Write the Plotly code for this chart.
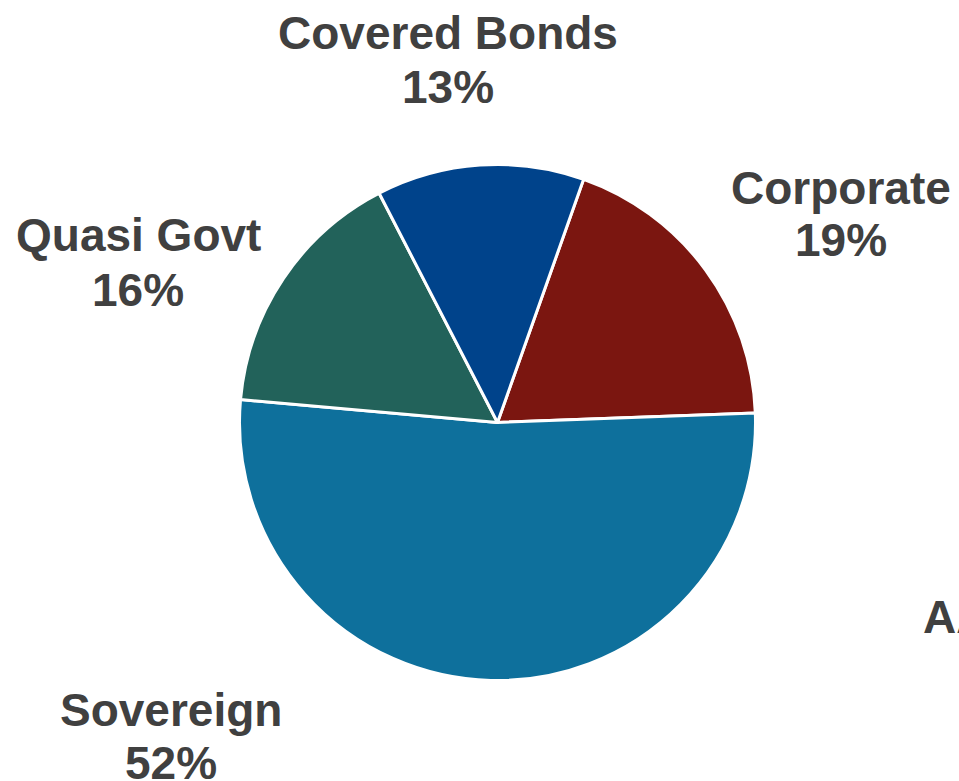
import plotly.graph_objects as go

W, H = 959, 781

categories = ["Corporate", "Sovereign", "Quasi Govt", "Covered Bonds"]
values = [19, 52, 16, 13]
colors = ["#7B1610", "#0E709C", "#22625A", "#00438B"]

# label anchor positions in pixels (x centre, name line centre, pct line centre)
label_pos = {
    "Corporate": (841, 188, 240),
    "Sovereign": (171, 710, 763),
    "Quasi Govt": (138, 235, 290),
    "Covered Bonds": (448, 33, 87),
}

FONT = "Liberation Sans, Arial, sans-serif"
TXT = "#404040"
FS = 46

cx, cy, r = 497.5, 422.5, 258

fig = go.Figure(go.Pie(
    labels=categories,
    values=values,
    marker=dict(colors=colors, line=dict(color="white", width=3)),
    sort=False,
    direction="clockwise",
    rotation=19.5,
    textinfo="none",
    hoverinfo="label+percent",
    showlegend=False,
    domain=dict(x=[(cx - r) / W, (cx + r) / W], y=[1 - (cy + r) / H, 1 - (cy - r) / H]),
))

annotations = []
for cat, val in zip(categories, values):
    x, y1, y2 = label_pos[cat]
    for text, yy in ((f"<b>{cat}</b>", y1), (f"<b>{val}%</b>", y2)):
        annotations.append(dict(
            text=text, x=x / W, y=1 - yy / H, xref="paper", yref="paper",
            xanchor="center", yanchor="middle", showarrow=False,
            font=dict(family=FONT, size=FS, color=TXT),
        ))

# partially visible label of a neighbouring chart at the right edge
annotations.append(dict(
    text="<b>AA</b>", x=921 / W, y=1 - 617 / H, xref="paper", yref="paper",
    xanchor="left", yanchor="middle", showarrow=False,
    font=dict(family=FONT, size=FS, color=TXT),
))

fig.update_layout(
    width=W, height=H,
    margin=dict(l=0, r=0, t=0, b=0),
    paper_bgcolor="white", plot_bgcolor="white",
    annotations=annotations,
)

fig.write_html("out.html")
